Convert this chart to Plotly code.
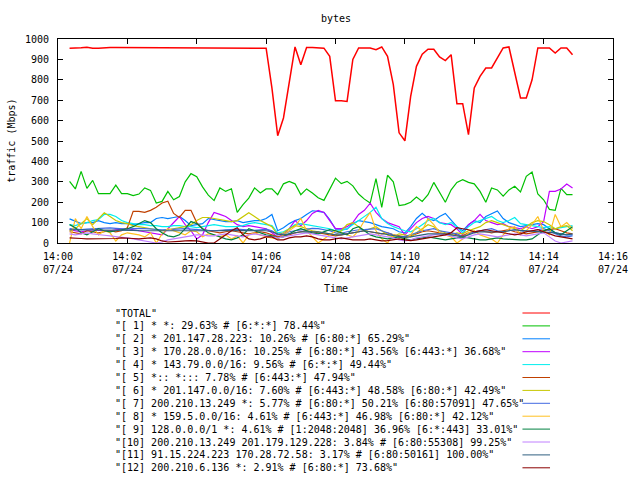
import pandas as pd
import plotly.graph_objects as go

# ---------------- data ----------------
start_time = "2013-07-24 14:00:20"
n_samples = 88  # one sample every 10 s, 14:00:20 .. 14:14:50
times = pd.date_range(start_time, periods=n_samples, freq="10s")

total = [955, 955, 957, 960, 955, 955, 958, 958, 958, 958,
         958, 955, 955, 958, 958, 955, 955, 958, 958, 958,
         958, 958, 958, 958, 958, 958, 958, 955, 958, 958,
         958, 958, 955, 955, 955, 760, 526, 613, 790, 961,
         874, 958, 958, 958, 955, 915, 697, 697, 694, 900,
         956, 956, 956, 948, 961, 915, 776, 540, 501, 719,
         866, 925, 950, 950, 912, 894, 923, 683, 683, 531,
         760, 817, 858, 858, 907, 956, 961, 830, 711, 711,
         800, 956, 956, 956, 931, 956, 956, 923]

s1 = [302, 265, 351, 268, 307, 242, 242, 242, 284, 242,
      242, 232, 240, 270, 258, 196, 204, 253, 212, 228,
      300, 340, 325, 275, 235, 208, 270, 253, 266, 150,
      188, 220, 270, 245, 265, 265, 237, 290, 302, 290,
      237, 265, 245, 222, 209, 260, 318, 291, 302, 280,
      240, 215, 196, 316, 175, 332, 300, 183, 188, 200,
      225, 204, 237, 297, 248, 200, 261, 297, 310, 297,
      290, 253, 200, 270, 260, 230, 260, 278, 250, 327,
      348, 240, 212, 165, 160, 268, 237, 237]

s2 = [118, 105, 95, 100, 100, 110, 100, 95, 100, 95,
      95, 90, 95, 100, 100, 120, 125, 120, 125, 130,
      110, 85, 90, 95, 120, 115, 110, 105, 105, 110,
      100, 105, 110, 110, 120, 140, 60, 75, 95, 110,
      120, 140, 158, 155, 150, 115, 68, 68, 68, 95,
      110, 105, 100, 90, 80, 75, 70, 55, 50, 80,
      120, 145, 120, 110, 130, 145, 110, 80, 60, 90,
      110, 100, 130, 145, 157, 120, 100, 90, 80, 85,
      90, 95, 90, 70, 50, 45, 40, 40]

s3 = [65, 60, 55, 60, 65, 62, 60, 60, 65, 68,
      70, 65, 60, 55, 50, 45, 40, 70, 100, 130,
      90, 60, 20, 40, 100, 150, 140, 130, 110, 90,
      80, 85, 80, 75, 70, 50, 30, 40, 70, 110,
      85, 110, 145, 160, 150, 110, 70, 70, 80, 100,
      140, 160, 195, 150, 120, 100, 90, 80, 40, 70,
      100, 120, 130, 120, 100, 95, 90, 70, 40, 90,
      110, 140, 110, 100, 90, 95, 80, 75, 70, 80,
      70, 80, 105, 253, 253, 265, 289, 270]

s4 = [90, 85, 95, 100, 110, 115, 140, 140, 130, 110,
      100, 95, 90, 90, 85, 85, 80, 80, 85, 85,
      80, 80, 75, 80, 85, 90, 85, 80, 80, 80,
      85, 95, 100, 95, 90, 85, 50, 55, 70, 90,
      95, 90, 85, 80, 75, 70, 60, 60, 70, 90,
      110, 130, 150, 175, 120, 95, 80, 70, 60, 55,
      70, 90, 110, 120, 100, 90, 100, 80, 50, 80,
      100, 110, 120, 130, 110, 100, 110, 125, 95, 90,
      85, 80, 75, 80, 70, 75, 80, 85]

s5 = [55, 50, 45, 60, 55, 50, 55, 60, 55, 60,
      75, 155, 155, 150, 160, 175, 196, 205, 145, 125,
      160, 160, 100, 70, 60, 55, 50, 55, 60, 55,
      50, 45, 50, 55, 50, 40, 30, 35, 40, 50,
      55, 60, 55, 50, 45, 40, 35, 40, 45, 50,
      55, 60, 55, 50, 45, 50, 40, 35, 30, 35,
      45, 55, 60, 55, 50, 45, 50, 40, 35, 50,
      55, 60, 55, 50, 55, 60, 65, 55, 50, 45,
      50, 55, 60, 65, 70, 60, 50, 45]

s6 = [60, 70, 95, 120, 90, 120, 148, 130, 110, 100,
      95, 85, 80, 75, 70, 65, 60, 65, 70, 75,
      80, 90, 110, 125, 125, 120, 115, 110, 105, 110,
      130, 148, 130, 110, 95, 80, 40, 50, 70, 85,
      80, 70, 60, 55, 50, 45, 40, 60, 90, 100,
      80, 60, 70, 80, 60, 40, 30, 45, 40, 30,
      50, 70, 90, 80, 60, 50, 40, 50, 45, 60,
      70, 80, 100, 110, 100, 90, 80, 70, 60, 80,
      100, 110, 105, 90, 70, 80, 85, 60]

s7 = [70, 68, 66, 68, 70, 70, 72, 74, 72, 70,
      68, 70, 72, 70, 68, 66, 65, 66, 68, 70,
      70, 68, 66, 64, 62, 60, 62, 64, 66, 68,
      66, 64, 62, 65, 68, 60, 40, 45, 55, 60,
      65, 70, 72, 70, 65, 60, 50, 48, 55, 60,
      65, 66, 68, 70, 60, 50, 40, 30, 32, 40,
      50, 60, 65, 70, 60, 55, 50, 45, 30, 45,
      55, 60, 65, 70, 60, 55, 60, 65, 60, 55,
      60, 65, 70, 60, 45, 35, 30, 35]

s8 = [0, 120, 70, 130, 80, 40, 60, 50, 10, 40,
      50, 45, 40, 30, 50, 0, 45, 70, 60, 50,
      40, 60, 55, 30, 45, 40, 30, 40, 20, 35,
      0, 40, 50, 40, 30, 25, 20, 40, 60, 80,
      120, 60, 30, 0, 20, 40, 60, 50, 40, 30,
      60, 110, 150, 60, 20, 0, 40, 30, 20, 40,
      80, 60, 120, 90, 50, 40, 30, 0, 20, 50,
      60, 40, 30, 20, 0, 40, 70, 80, 40, 60,
      90, 130, 60, 40, 140, 80, 100, 70]

s9 = [90, 75, 50, 40, 55, 70, 60, 55, 60, 65,
      70, 80, 95, 110, 100, 70, 50, 35, 30, 40,
      70, 105, 95, 70, 50, 40, 30, 20, 15, 25,
      40, 70, 60, 50, 40, 35, 25, 30, 45, 60,
      70, 60, 50, 45, 55, 65, 60, 50, 40, 70,
      80, 60, 40, 30, 25, 20, 25, 30, 20, 15,
      20, 25, 30, 25, 20, 15, 20, 25, 30, 25,
      20, 15, 15, 20, 25, 20, 18, 15, 15, 15,
      20, 40, 60, 70, 50, 40, 60, 80]

s10 = [45, 40, 45, 50, 45, 40, 38, 35, 30, 28,
       25, 20, 15, 10, 5, 0, 5, 15, 20, 25,
       30, 35, 40, 40, 35, 35, 40, 45, 40, 35,
       30, 40, 45, 40, 35, 30, 25, 30, 35, 40,
       45, 50, 45, 40, 35, 30, 25, 20, 25, 30,
       35, 40, 45, 40, 35, 30, 25, 15, 10, 15,
       25, 30, 35, 40, 45, 40, 35, 25, 20, 30,
       40, 45, 40, 35, 30, 35, 40, 45, 40, 35,
       40, 45, 50, 30, 10, 0, 5, 10]

s11 = [65, 65, 64, 64, 64, 63, 63, 63, 62, 62,
       62, 62, 61, 61, 60, 60, 60, 60, 59, 59,
       59, 59, 58, 58, 58, 58, 60, 62, 62, 62,
       62, 62, 63, 63, 60, 55, 45, 40, 45, 50,
       55, 55, 55, 55, 50, 45, 40, 40, 45, 50,
       55, 60, 55, 50, 45, 40, 35, 30, 28, 30,
       35, 40, 45, 45, 45, 45, 40, 35, 30, 40,
       50, 55, 55, 55, 55, 55, 60, 65, 62, 60,
       58, 56, 55, 52, 50, 45, 40, 45]

s12 = [25, 25, 22, 20, 20, 20, 20, 20, 22, 25,
       25, 22, 20, 22, 25, 20, 10, 5, 5, 8,
       10, 12, 10, 5, 0, 0, 20, 40, 60, 75,
       40, 20, 15, 20, 30, 30, 15, 15, 25, 30,
       30, 35, 30, 20, 15, 15, 20, 25, 20, 15,
       15, 15, 20, 15, 10, 12, 15, 20, 15, 12,
       15, 20, 25, 30, 35, 40, 50, 75, 70, 65,
       55, 60, 65, 60, 55, 50, 45, 40, 45, 55,
       60, 65, 55, 45, 35, 30, 25, 20]

series_values = [total, s1, s2, s3, s4, s5, s6, s7, s8, s9, s10, s11, s12]

series_labels = [
    '"TOTAL"',
    '"[ 1] * *: 29.63% # [6:*:*] 78.44%"',
    '"[ 2] * 201.147.28.223: 10.26% # [6:80:*] 65.29%"',
    '"[ 3] * 170.28.0.0/16: 10.25% # [6:80:*] 43.56% [6:443:*] 36.68%"',
    '"[ 4] * 143.79.0.0/16: 9.56% # [6:*:*] 49.44%"',
    '"[ 5] *:: *::: 7.78% # [6:443:*] 47.94%"',
    '"[ 6] * 201.147.0.0/16: 7.60% # [6:443:*] 48.58% [6:80:*] 42.49%"',
    '"[ 7] 200.210.13.249 *: 5.77% # [6:80:*] 50.21% [6:80:57091] 47.65%"',
    '"[ 8] * 159.5.0.0/16: 4.61% # [6:443:*] 46.98% [6:80:*] 42.12%"',
    '"[ 9] 128.0.0.0/1 *: 4.61% # [1:2048:2048] 36.96% [6:*:443] 33.01%"',
    '"[10] 200.210.13.249 201.179.129.228: 3.84% # [6:80:55308] 99.25%"',
    '"[11] 91.15.224.223 170.28.72.58: 3.17% # [6:80:50161] 100.00%"',
    '"[12] 200.210.6.136 *: 2.91% # [6:80:*] 73.68%"',
]

series_colors = ["#ff0000", "#00c000", "#0080ff", "#c000ff", "#00eeee",
                 "#c04000", "#c8c800", "#4169e1", "#ffc020", "#008040",
                 "#c080ff", "#306080", "#8b0000"]

y_ticks = [0, 100, 200, 300, 400, 500, 600, 700, 800, 900, 1000]
x_range = ["2013-07-24 14:00:00", "2013-07-24 14:16:00"]

# ---------------- layout geometry ----------------
W, H = 640, 480
ML, MR, MT, MB = 58, 18, 39, 237
PW = W - ML - MR
PH = H - MT - MB
FONT = "DejaVu Sans Mono"


def px_x(px):
    return (px - ML) / PW


def px_y(py):
    return (H - MB - py) / PH


fig = go.Figure()
for vals, lab, col in zip(series_values, series_labels, series_colors):
    fig.add_trace(go.Scatter(
        x=times, y=vals, mode="lines", name=lab,
        line=dict(color=col, width=1.5 if lab == '"TOTAL"' else 1.2),
        showlegend=False,
    ))

annotations = [
    dict(text="bytes", x=px_x(340), y=px_y(19), xref="paper", yref="paper",
         showarrow=False, xanchor="center", yanchor="middle",
         font=dict(family=FONT, size=10, color="black")),
    dict(text="Time", x=px_x(340), y=px_y(288), xref="paper", yref="paper",
         showarrow=False, xanchor="center", yanchor="middle",
         font=dict(family=FONT, size=10, color="black")),
    dict(text="traffic (Mbps)", x=px_x(10), y=px_y(141), xref="paper", yref="paper",
         showarrow=False, xanchor="center", yanchor="middle", textangle=-90,
         font=dict(family=FONT, size=10, color="black")),
]
shapes = []
row0, row_step = 313, 12.9
for i, (lab, col) in enumerate(zip(series_labels, series_colors)):
    ry = row0 + i * row_step
    annotations.append(dict(
        text=lab, x=px_x(114), y=px_y(ry), xref="paper", yref="paper",
        showarrow=False, xanchor="left", yanchor="middle",
        font=dict(family=FONT, size=10, color="black")))
    shapes.append(dict(
        type="line", xref="paper", yref="paper",
        x0=px_x(530), x1=px_x(558), y0=px_y(ry), y1=px_y(ry),
        line=dict(color=col, width=1)))

fig.update_layout(
    width=W, height=H,
    margin=dict(l=ML, r=MR, t=MT, b=MB, pad=0),
    paper_bgcolor="white", plot_bgcolor="white",
    font=dict(family=FONT, size=10, color="black"),
    annotations=annotations, shapes=shapes,
    showlegend=False,
)
fig.update_xaxes(
    type="date", range=x_range, dtick=120000, tick0="2013-07-24 14:00:00",
    tickformat="%H:%M<br>%m/%d", ticks="inside", ticklen=5, tickcolor="black",
    showline=True, linecolor="black", linewidth=1, mirror="allticks",
    showgrid=False, zeroline=False, ticklabelstandoff=4,
    tickfont=dict(family=FONT, size=10, color="black"),
)
fig.update_yaxes(
    range=[0, 1000], tickvals=y_ticks, ticks="inside", ticklen=5, tickcolor="black",
    showline=True, linecolor="black", linewidth=1, mirror="allticks",
    showgrid=False, zeroline=False, ticklabelstandoff=6,
    tickfont=dict(family=FONT, size=10, color="black"),
)

fig.write_html("out.html",
               config={"displayModeBar": False},
               post_script="document.body.style.margin='0';document.body.style.padding='0';")
